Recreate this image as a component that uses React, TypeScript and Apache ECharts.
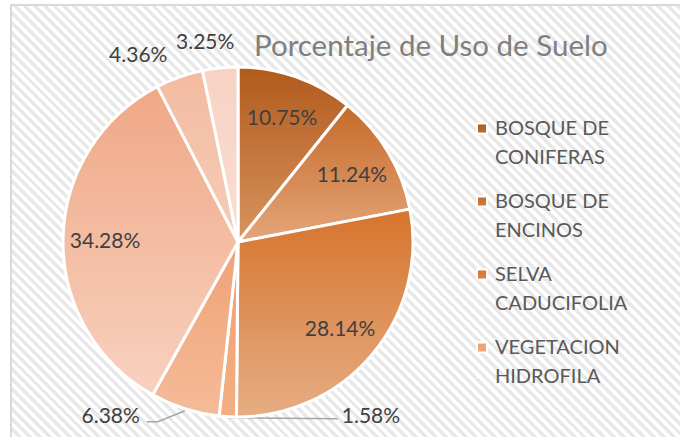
import React, { useEffect, useRef } from 'react';
import * as echarts from 'echarts';

const categories = [
  'BOSQUE DE CONIFERAS',
  'BOSQUE DE ENCINOS',
  'SELVA CADUCIFOLIA',
  'VEGETACION HIDROFILA',
  'CATEGORIA 5',
  'CATEGORIA 6',
  'CATEGORIA 7',
  'CATEGORIA 8',
];
const values = [10.75, 11.24, 28.14, 1.58, 6.38, 34.28, 4.36, 3.25];
const legendItems = categories.slice(0, 4);
const topColors = ['#B15A1C', '#C56A2A', '#D6742C', '#EFA270', '#EEA276', '#EFA886', '#F3BBA1', '#F7D2C4'];
const bottomColors = ['#D99460', '#E5A67B', '#E6AD84', '#F2AE82', '#F5BB98', '#F8D1BF', '#F6CCB9', '#F9DED3'];
const insideIdx = [0, 1, 2, 5];
const outsideIdx = [3, 4, 6, 7];

const CX = 238;
const CY = 242;
const R = 175;
const FONT = 'Lato, "Open Sans", sans-serif';

function midAngle(i: number): number {
  const total = values.reduce((s, v) => s + v, 0);
  let acc = 0;
  for (let k = 0; k < i; k++) acc += values[k];
  return ((acc + values[i] / 2) / total) * Math.PI * 2;
}

function grad(i: number) {
  return new echarts.graphic.LinearGradient(0, 0, 0, 1, [
    { offset: 0, color: topColors[i] },
    { offset: 1, color: bottomColors[i] },
  ]);
}

export default function App() {
  const ref = useRef<HTMLDivElement>(null);
  useEffect(() => {
    if (!ref.current) return;
    const chart = echarts.init(ref.current, null, { renderer: 'svg' });
    const labelStyle = { fontFamily: FONT, fontSize: 21, color: '#404040' };
    const mainData = values.map((v, i) => ({
      name: categories[i],
      value: v,
      itemStyle: { color: grad(i) },
      label: { show: outsideIdx.includes(i) },
      labelLine: { show: i === 3 || i === 4 },
    }));
    const overlayData = values.map((v, i) => ({
      name: categories[i],
      value: v,
      label: { show: insideIdx.includes(i) },
    }));
    chart.setOption({
      animation: false,
      backgroundColor: 'transparent',
      title: {
        text: 'Porcentaje de Uso de Suelo',
        left: 249,
        top: 24,
        textStyle: { fontFamily: FONT, fontSize: 29.5, fontWeight: 'normal', color: '#7F7F7F' },
      },
      legend: {
        data: legendItems,
        orient: 'vertical',
        left: 476,
        top: 112,
        padding: 0,
        itemGap: 15,
        itemWidth: 10,
        itemHeight: 35,
        icon: 'path://M0,0L10,0L10,10L0,10Z M0,35L0.01,35L0.01,35.01L0,35.01Z',
        selectedMode: false,
        formatter: (name: string) => {
          const idx = name.lastIndexOf(' ');
          return name.slice(0, idx) + '\n' + name.slice(idx + 1);
        },
        textStyle: {
          fontFamily: FONT,
          fontSize: 20,
          color: '#595959',
          lineHeight: 29,
          padding: [0, 0, 0, 3],
        },
      },
      series: [
        {
          type: 'pie',
          center: [CX, CY],
          radius: R,
          startAngle: 90,
          clockwise: true,
          data: mainData,
          itemStyle: { borderColor: '#FFFFFF', borderWidth: 3 },
          label: {
            position: 'outside',
            ...labelStyle,
            formatter: (p: any) => p.value.toFixed(2) + '%',
          },
          labelLine: { lineStyle: { color: '#A6A6A6', width: 1.5 } },
          labelLayout: (p: any) => {
            const i = p.dataIndex;
            const a = midAngle(i);
            const ex = CX + R * Math.sin(a);
            const ey = CY - R * Math.cos(a);
            if (i === 3) {
              return {
                x: ex + 114, y: ey - 2, align: 'left', verticalAlign: 'middle',
                labelLinePoints: [[ex, ey + 1], [ex + 110, ey + 2]],
              };
            }
            if (i === 4) {
              return {
                x: ex - 45, y: ey + 6, align: 'right', verticalAlign: 'middle',
                labelLinePoints: [[ex, ey + 2], [ex - 27, ey + 13], [ex - 38, ey + 13]],
              };
            }
            if (i === 6) {
              return { x: ex - 12, y: ey - 24, align: 'right', verticalAlign: 'middle' };
            }
            if (i === 7) {
              return { x: ex - 15, y: ey - 27, align: 'center', verticalAlign: 'middle' };
            }
            return {};
          },
        },
        {
          type: 'pie',
          center: [CX, CY],
          radius: [100, 160],
          startAngle: 90,
          clockwise: true,
          silent: true,
          data: overlayData,
          itemStyle: { color: 'transparent', borderWidth: 0 },
          label: {
            position: 'inside',
            ...labelStyle,
            formatter: (p: any) => p.value.toFixed(2) + '%',
          },
          labelLine: { show: false },
          emphasis: { disabled: true },
        },
      ],
    });
    return () => chart.dispose();
  }, []);

  return (
    <div style={{ position: 'fixed', left: 0, top: 0, width: 680, height: 437, background: '#FFFFFF', overflow: 'hidden' }}>
      <div
        style={{
          position: 'absolute',
          left: 10,
          top: 4,
          width: 690,
          height: 450,
          border: '2px solid #D9D9D9',
          background: 'repeating-linear-gradient(45deg, #FFFFFF 0px, #FFFFFF 3.5px, #E8E8E8 3.5px, #E8E8E8 7px)',
        }}
      />
      <div ref={ref} style={{ position: 'absolute', left: 0, top: 0, width: 680, height: 437 }} />
    </div>
  );
}
